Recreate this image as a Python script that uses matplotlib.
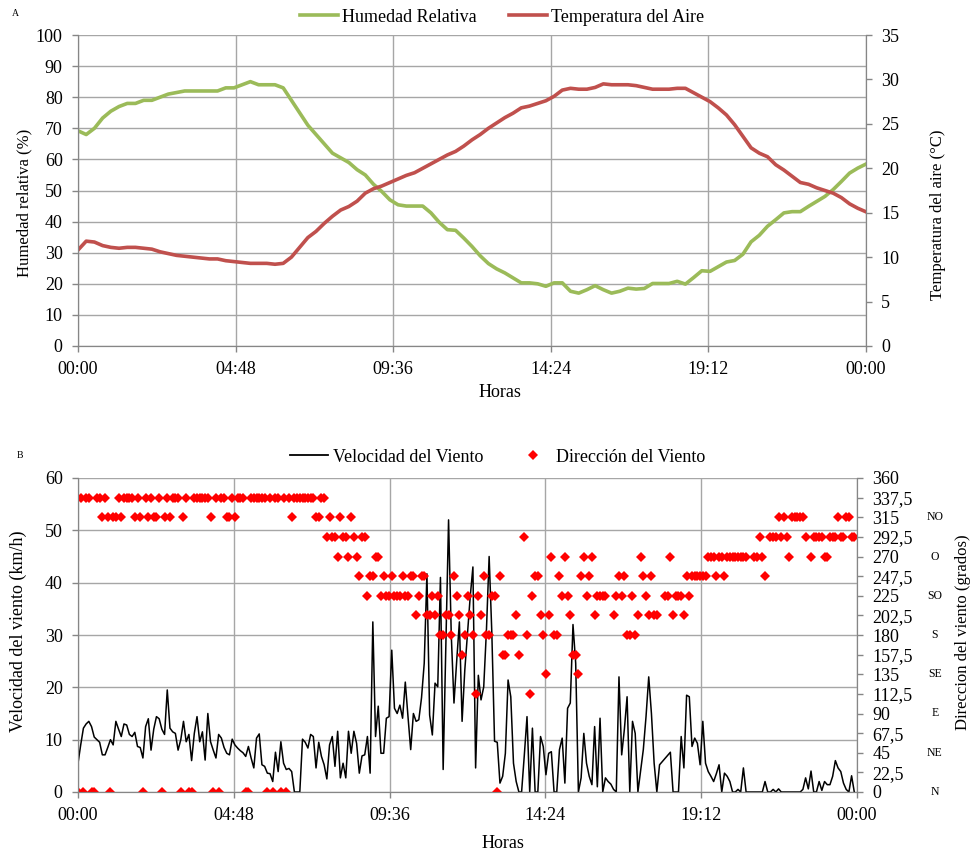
import numpy as np
import matplotlib.pyplot as plt
from matplotlib.lines import Line2D
from matplotlib.transforms import blended_transform_factory

plt.rcParams['font.family'] = ['Liberation Serif', 'DejaVu Serif']

# ---------------- data ----------------
# panel A: 15-minute readings from 00:00 to 24:00
humidity = [
    69.2, 68, 70, 73.3, 75.5, 77, 78, 78, 79, 79, 80, 81,
    81.5, 82, 82, 82, 82, 82, 83, 83, 84, 85, 84, 84,
    84, 83, 79, 75, 71, 68, 65, 62, 60.5, 59, 56.7, 55,
    52, 49.7, 47, 45.4, 45, 45, 45, 42.8, 39.8, 37.4, 37.2, 34.7,
    32, 29, 26.5, 24.8, 23.5, 21.9, 20.3, 20.3, 20, 19.2, 20.3, 20.3,
    17.6, 17, 18.1, 19.4, 18.1, 17, 17.6, 18.6, 18.3, 18.5, 20.1, 20.1,
    20.1, 20.8, 19.9, 22, 24.2, 24, 25.5, 27, 27.5, 29.5, 33.5, 35.6,
    38.5, 40.6, 42.8, 43.2, 43.2, 44.9, 46.5, 48.1, 50.3, 52.9, 55.6, 57.2,
    58.5,
]
air_temp = [
    10.8, 11.8, 11.7, 11.3, 11.1, 11.0, 11.1, 11.1, 11.0, 10.9, 10.6, 10.4,
    10.2, 10.1, 10.0, 9.9, 9.8, 9.8, 9.6, 9.5, 9.4, 9.3, 9.3, 9.3,
    9.2, 9.3, 10.0, 11.1, 12.2, 12.9, 13.8, 14.6, 15.3, 15.7, 16.3, 17.2,
    17.7, 18.0, 18.4, 18.8, 19.2, 19.5, 20.0, 20.5, 21.0, 21.5, 21.9, 22.5,
    23.2, 23.8, 24.5, 25.1, 25.7, 26.2, 26.8, 27.0, 27.3, 27.6, 28.1, 28.8,
    29.0, 28.9, 28.9, 29.1, 29.5, 29.4, 29.4, 29.4, 29.3, 29.1, 28.9, 28.9,
    28.9, 29.0, 29.0, 28.5, 28.0, 27.5, 26.8, 26.0, 24.9, 23.6, 22.3, 21.7,
    21.3, 20.4, 19.8, 19.1, 18.4, 18.2, 17.8, 17.5, 17.2, 16.7, 16.0, 15.5,
    15.1,
]
hours_a = np.arange(len(humidity)) * 0.25

# panel B: 5-minute readings, one row per hour
wind_speed = [
    5.5, 9, 12.2, 13, 13.5, 12.5, 10.5, 10, 9.5, 7.1, 7.1, 8.5,
    10, 9, 13.5, 12, 10.6, 13, 12.8, 11, 10.6, 11.4, 8.7, 8.5,
    6.5, 12.5, 14, 8, 12, 14.4, 14, 12, 11, 19.5, 12.2, 11.5,
    11.2, 8, 10, 13.5, 9.6, 11, 6, 11.2, 14.4, 9.6, 11.5, 6.1,
    15, 9.6, 8, 6.5, 11, 10.3, 8.5, 7.4, 7.1, 10.1, 9, 8.4,
    7.9, 7.5, 6.8, 8.7, 6.5, 4.6, 10.3, 11.1, 5.2, 4.9, 3.6, 3.5,
    2, 7.6, 3.9, 9.6, 5.5, 4.3, 4.5, 3.9, 0, 0, 0, 10.1,
    9.5, 8.4, 11, 10.6, 4.6, 9.5, 6.8, 5.2, 2.5, 9, 10.6, 4.9,
    11.6, 2.7, 5.5, 2.7, 11.6, 7.4, 11.6, 9.3, 3.6, 6.9, 7.1, 10.6,
    3.6, 32.5, 10.6, 16.4, 7.4, 7.4, 14.1, 14.4, 27.1, 16, 15, 16.6,
    14.1, 21, 14.4, 8.1, 15, 13.5, 13.8, 18, 24.6, 41.7, 14.7, 10.9,
    20.8, 20.1, 41, 4.3, 28, 52, 30, 17, 25, 32.5, 13.5, 23.3,
    30.3, 37.3, 43, 4.6, 22.3, 17.6, 20.1, 30.9, 45, 30.3, 9.7, 9.5,
    1.7, 3, 7.4, 21.4, 18.2, 5.5, 2, 0, 0, 7, 14.4, 0,
    12.2, 0, 0, 10.6, 8.7, 3.3, 7.4, 7.7, 0, 0, 8.1, 10.3,
    1.7, 16, 17, 32, 24.6, 0, 2.7, 11.2, 5.5, 3, 1.4, 12.5,
    1, 14.1, 0, 2.7, 2, 1.5, 0.5, 0, 22, 7.1, 12, 18.2,
    0, 13.5, 11.2, 0, 4, 8.1, 14.4, 22, 15, 5.5, 0, 5.2,
    5.8, 6.4, 7, 7.6, 0, 0, 0, 10.6, 4.6, 18.5, 18.2, 8.7,
    10.3, 9.3, 5.2, 13.5, 5.5, 3.9, 3, 2, 3.5, 5.2, 0, 3.6,
    3, 2, 0, 0, 0.5, 0, 4.6, 0, 0, 0, 0, 0,
    0, 0, 2, 0, 0, 0.5, 0, 0.6, 0, 0, 0, 0,
    0, 0, 0, 0, 0.5, 2.7, 0.6, 4, 0, 0, 2, 0.3,
    2, 1.4, 1.4, 3, 6, 4.6, 3.9, 1.7, 0.5, 0, 3.1, 0,
]
nan = np.nan
wind_dir = [
    0, 337.5, 0, 337.5, 337.5, 0, 0, 337.5, 337.5, 315, 337.5, 315,
    0, 315, 315, 337.5, 315, 337.5, 337.5, 337.5, 337.5, 315, 337.5, 315,
    0, 337.5, 315, 337.5, 315, 315, 337.5, 0, 315, 337.5, 315, 337.5,
    337.5, 337.5, 0, 315, 337.5, 0, 0, 337.5, 337.5, 337.5, 337.5, 337.5,
    337.5, 315, 0, 337.5, 0, 337.5, 337.5, 315, 315, 337.5, 315, 337.5,
    337.5, 337.5, 0, 0, 337.5, 337.5, 337.5, 337.5, 337.5, 337.5, 0, 337.5,
    0, 337.5, 337.5, 0, 337.5, 0, 337.5, 315, 337.5, 337.5, 337.5, 337.5,
    337.5, 337.5, 337.5, 337.5, 315, 315, 337.5, 337.5, 292.5, 315, 292.5, 292.5,
    270, 315, 292.5, 292.5, 270, 315, 292.5, 270, 247.5, 292.5, 292.5, 225,
    247.5, 247.5, 270, 270, 225, 247.5, 225, 225, 247.5, 225, 225, 225,
    247.5, 225, 225, 247.5, 247.5, 202.5, 225, 247.5, 247.5, 202.5, 202.5, 225,
    202.5, 225, 180, 180, 202.5, 202.5, 180, 247.5, 225, 202.5, 157.5, 180,
    225, 202.5, 180, 112.5, 225, 202.5, 247.5, 180, 180, 225, 225, 0,
    247.5, 157.5, 157.5, 180, 180, 180, 202.5, 157.5, nan, 292.5, 180, 112.5,
    225, 247.5, 247.5, 202.5, 180, 135, 202.5, 270, 180, 180, 247.5, 225,
    270, 225, 202.5, 157.5, 157.5, 135, 247.5, 270, 225, 247.5, 270, 202.5,
    225, 225, 225, 225, nan, nan, 202.5, 225, 247.5, 225, 247.5, 180,
    180, 225, 180, 202.5, 270, 247.5, 225, 202.5, 247.5, 202.5, 202.5, nan,
    nan, 225, 225, 270, 202.5, 225, 225, 225, 202.5, 247.5, 225, 247.5,
    247.5, 247.5, 247.5, 247.5, 247.5, 270, 270, 270, 247.5, 270, 270, 247.5,
    270, 270, 270, 270, 270, 270, 270, 270, nan, nan, 270, 270,
    292.5, 270, 247.5, nan, 292.5, 292.5, 292.5, 315, 292.5, 315, 292.5, 270,
    315, 315, 315, 315, 315, 292.5, nan, 270, 292.5, 292.5, 292.5, 292.5,
    270, 270, 292.5, 292.5, 292.5, 315, 292.5, 292.5, 315, 315, 292.5, 292.5,
]
hours_b = np.arange(len(wind_speed)) * 5 / 60

time_ticks = [0, 4.8, 9.6, 14.4, 19.2, 24]
time_labels = ['00:00', '04:48', '09:36', '14:24', '19:12', '00:00']
dir_ticks = np.arange(0, 361, 22.5)
dir_names = ['N', 'NE', 'E', 'SE', 'S', 'SO', 'O', 'NO']
dir_name_deg = [0, 45, 90, 135, 180, 225, 270, 315]

GREEN = '#9bbb59'
RED = '#c0504d'
GRID = '#a6a6a6'
SPINE = '#868686'
W, H = 971, 852


def style_axes(ax, axr):
    ax.set_xlim(0, 24)
    ax.set_xticks(time_ticks)
    ax.set_xticklabels(time_labels)
    ax.grid(True, color=GRID, lw=1)
    ax.set_axisbelow(True)
    for a in (ax, axr):
        for s in a.spines.values():
            s.set_color(SPINE)
        a.spines['top'].set_visible(False)
        a.tick_params(axis='both', labelsize=13, length=4, width=1,
                      color=SPINE, direction='out', pad=7)


fig = plt.figure(figsize=(W / 100, H / 100), dpi=100)

# ---------------- panel A ----------------
ax1 = fig.add_axes([78 / W, 1 - 346 / H, 788 / W, 311 / H])
ax1r = ax1.twinx()
style_axes(ax1, ax1r)
ax1.set_ylim(0, 100)
ax1.set_yticks(range(0, 101, 10))
ax1r.set_ylim(0, 35)
ax1r.set_yticks(range(0, 36, 5))
ax1.plot(hours_a, humidity, color=GREEN, lw=2.6)
ax1r.plot(hours_a, air_temp, color=RED, lw=2.6)

fig.text(24 / W, 1 - 203 / H, 'Humedad relativa (%)', rotation=90,
         ha='center', va='center', fontsize=12)
fig.text(938 / W, 1 - 215 / H, 'Temperatura del aire (°C)', rotation=90,
         ha='center', va='center', fontsize=12)
fig.text(500 / W, 1 - 393 / H, 'Horas', ha='center', va='center', fontsize=13)
fig.text(15 / W, 1 - 13 / H, 'A', ha='center', va='center', fontsize=7)

fig.legend(handles=[Line2D([], [], color=GREEN, lw=2.6),
                    Line2D([], [], color=RED, lw=2.6)],
           labels=['Humedad Relativa', 'Temperatura del Aire'],
           loc='center', bbox_to_anchor=(502 / W, 1 - 17 / H), ncol=2,
           frameon=False, fontsize=13, handlelength=2.1,
           handletextpad=0.2, columnspacing=1.8)

# ---------------- panel B ----------------
ax2 = fig.add_axes([78 / W, 1 - 792 / H, 779 / W, 314 / H])
ax2r = ax2.twinx()
style_axes(ax2, ax2r)
ax2.set_ylim(0, 60)
ax2.set_yticks(range(0, 61, 10))
ax2r.set_ylim(0, 360)
ax2r.set_yticks(dir_ticks)
ax2r.set_yticklabels([('%g' % v).replace('.', ',') for v in dir_ticks])
ax2.plot(hours_b, wind_speed, color='black', lw=1.1)
ax2r.plot(hours_b, wind_dir, ls='none', marker='D', ms=5, color='red',
          markeredgewidth=0)

trans = blended_transform_factory(ax2r.transAxes, ax2r.transData)
for name, deg in zip(dir_names, dir_name_deg):
    ax2r.text(1.1, deg, name, transform=trans, ha='center', va='center',
              fontsize=8.5)

fig.text(18 / W, 1 - 631 / H, 'Velocidad del viento (km/h)', rotation=90,
         ha='center', va='center', fontsize=13)
fig.text(963 / W, 1 - 632 / H, 'Direccion del viento (grados)', rotation=90,
         ha='center', va='center', fontsize=12)
fig.text(503 / W, 1 - 843 / H, 'Horas', ha='center', va='center', fontsize=13)
fig.text(20 / W, 1 - 456 / H, 'B', ha='center', va='center', fontsize=7)

fig.legend(handles=[Line2D([], [], color='black', lw=1.3),
                    Line2D([], [], ls='none', marker='D', ms=5, color='red',
                           markeredgewidth=0)],
           labels=['Velocidad del Viento', 'Dirección del Viento'],
           loc='center', bbox_to_anchor=(498 / W, 1 - 457 / H), ncol=2,
           frameon=False, fontsize=13, handlelength=2.1,
           handletextpad=0.25, columnspacing=1.7)

fig.savefig('out.png', dpi=100)
